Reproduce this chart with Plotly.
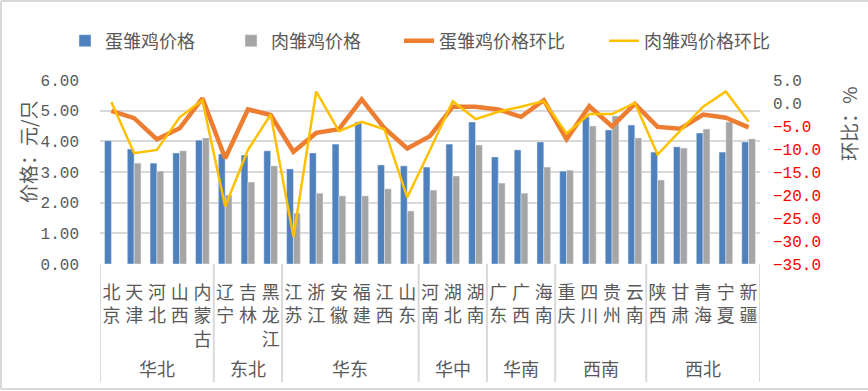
import plotly.graph_objects as go

categories = ["北京", "天津", "河北", "山西", "内蒙古", "辽宁", "吉林", "黑龙江",
              "江苏", "浙江", "安徽", "福建", "江西", "山东", "河南", "湖北", "湖南",
              "广东", "广西", "海南", "重庆", "四川", "贵州", "云南",
              "陕西", "甘肃", "青海", "宁夏", "新疆"]
groups = ["华北", "东北", "华东", "华中", "华南", "西南", "西北"]
group_sizes = [5, 3, 6, 3, 3, 4, 5]

egg_price = [4.02, 3.75, 3.29, 3.62, 4.04, 3.59, 3.55, 3.69, 3.10, 3.62, 3.91, 4.63,
             3.23, 3.20, 3.16, 3.91, 4.63, 3.49, 3.72, 3.98, 3.03, 4.80, 4.37, 4.53,
             3.65, 3.82, 4.27, 3.65, 3.98]
meat_price = [None, 3.29, 3.03, 3.69, 4.11, 2.25, 2.67, 3.20, 1.66, 2.31, 2.22, 2.22,
              2.45, 1.73, 2.41, 2.87, 3.88, 2.64, 2.31, 3.16, 3.06, 4.50, 4.83, 4.11,
              2.74, 3.78, 4.40, 4.63, 4.08]
egg_mom = [-1.7, -3.3, -7.9, -5.5, 1.0, -12.0, -1.4, -2.6, -10.6, -6.5, -5.7, 0.8,
           -5.5, -9.9, -7.2, -0.8, -0.8, -1.4, -3.0, 0.6, -7.9, -0.7, -5.1, -0.2,
           -5.2, -5.6, -2.5, -3.2, -5.3]
meat_mom = [0.2, -10.9, -10.2, -3.1, 0.6, -22.5, -10.2, -2.5, -29.1, 2.5, -6.1, -4.1,
            -5.7, -20.5, -10.2, 0.4, -3.5, -1.9, -0.8, 0.4, -6.6, -2.4, -2.4, 0.0,
            -11.2, -5.9, -0.8, 2.5, -4.1]

left_ticks = [0, 1, 2, 3, 4, 5, 6]
right_ticks = [-35, -30, -25, -20, -15, -10, -5, 0, 5]

W, H = 868, 391
ML, MR, MT, MB = 100, 108, 80, 127
PW, PH = W - ML - MR, H - MT - MB

CJK = "Noto Sans CJK SC"
MONO = "Liberation Mono"
TXT = "#595959"
GRID = "#D9D9D9"


def px(pix):
    return (pix - ML) / PW


def py(pix):
    return (MT + PH - pix) / PH


fig = go.Figure()
fig.add_trace(go.Bar(name="蛋雏鸡价格", x=categories, y=egg_price,
                     marker_color="#4F81BD", yaxis="y", legend="legend"))
fig.add_trace(go.Bar(name="肉雏鸡价格", x=categories, y=meat_price,
                     marker_color="#A5A5A5", yaxis="y", legend="legend2"))
fig.add_trace(go.Scatter(name="蛋雏鸡价格环比", x=categories, y=egg_mom, mode="lines",
                         line=dict(color="#ED7D31", width=4.5), yaxis="y2",
                         legend="legend3"))
fig.add_trace(go.Scatter(name="肉雏鸡价格环比", x=categories, y=meat_mom, mode="lines",
                         line=dict(color="#FFC000", width=2.5), yaxis="y2",
                         legend="legend4"))


def rtext(v):
    s = f"{abs(v):.1f}"
    if v < 0:
        return f"<span style='fill:#FF0000'>−{s}</span>"
    return s


shapes = []
annotations = []
start = 0
for g, n in zip(groups, group_sizes):
    annotations.append(dict(x=start + (n - 1) / 2, y=py(368), xref="x", yref="paper",
                            text=g, showarrow=False, xanchor="center", yanchor="middle",
                            font=dict(family=CJK, size=18, color=TXT)))
    start += n
boundaries = [-0.5]
acc = 0
for n in group_sizes:
    acc += n
    boundaries.append(acc - 0.5)
for b in boundaries:
    shapes.append(dict(type="line", xref="x", yref="paper", x0=b, x1=b,
                       y0=0, y1=py(382), line=dict(color=GRID, width=2)))

# outer frame (left, top, bottom)
shapes.append(dict(type="line", xref="paper", yref="paper", x0=px(1), x1=px(1),
                   y0=py(1), y1=py(389), line=dict(color=GRID, width=2)))
shapes.append(dict(type="line", xref="paper", yref="paper", x0=px(1), x1=px(W),
                   y0=py(1), y1=py(1), line=dict(color=GRID, width=2)))
shapes.append(dict(type="line", xref="paper", yref="paper", x0=px(1), x1=px(W),
                   y0=py(389), y1=py(389), line=dict(color=GRID, width=2)))

annotations.append(dict(x=px(27), y=py(152), xref="paper", yref="paper",
                        text="价格：元/只", textangle=-90, showarrow=False,
                        xanchor="center", yanchor="middle",
                        font=dict(family=CJK, size=19, color=TXT)))
annotations.append(dict(x=px(848), y=py(124), xref="paper", yref="paper",
                        text="环比：%", textangle=-90, showarrow=False,
                        xanchor="center", yanchor="middle",
                        font=dict(family=CJK, size=19, color=TXT)))

leg_font = dict(family=CJK, size=18, color=TXT)
text_starts = [105, 271, 439, 644]
legends = {}
for i, ts in enumerate(text_starts):
    key = "legend" if i == 0 else f"legend{i + 1}"
    legends[key] = dict(orientation="h", x=px(ts - 40), xanchor="left",
                        y=py(41), yanchor="middle", font=leg_font,
                        bgcolor="rgba(0,0,0,0)", visible=True)

fig.update_layout(
    width=W, height=H,
    showlegend=True,
    margin=dict(l=ML, r=MR, t=MT, b=MB, autoexpand=False),
    paper_bgcolor="white", plot_bgcolor="white",
    font=dict(family=CJK, color=TXT),
    barmode="group", bargap=0.4, bargroupgap=0,
    xaxis=dict(type="category", tickvals=categories,
               ticktext=["<br>".join(c) for c in categories],
               tickfont=dict(family=CJK, size=18, color=TXT),
               showgrid=False, showline=False, zeroline=False, ticks="",
               range=[-0.5, len(categories) - 0.5], ticklabelstandoff=16),
    yaxis=dict(range=[0, 6], tickvals=left_ticks,
               ticktext=[f"{v:.2f}" for v in left_ticks],
               tickfont=dict(family=MONO, size=16, color=TXT),
               showgrid=True, gridcolor=GRID, gridwidth=1.5,
               zeroline=False, showline=False, ticks="", ticklabelstandoff=20),
    yaxis2=dict(range=[-35, 5], overlaying="y", side="right", tickvals=right_ticks,
                ticktext=[rtext(v) for v in right_ticks],
                tickfont=dict(family=MONO, size=16, color=TXT),
                showgrid=False, zeroline=False, showline=False, ticks="",
                ticklabelstandoff=12),
    shapes=shapes, annotations=annotations,
    **legends,
)

fig.write_html("out.html", config={"displayModeBar": False},
               post_script="document.body.style.margin='0px';"
                           "document.body.style.overflow='hidden';")
